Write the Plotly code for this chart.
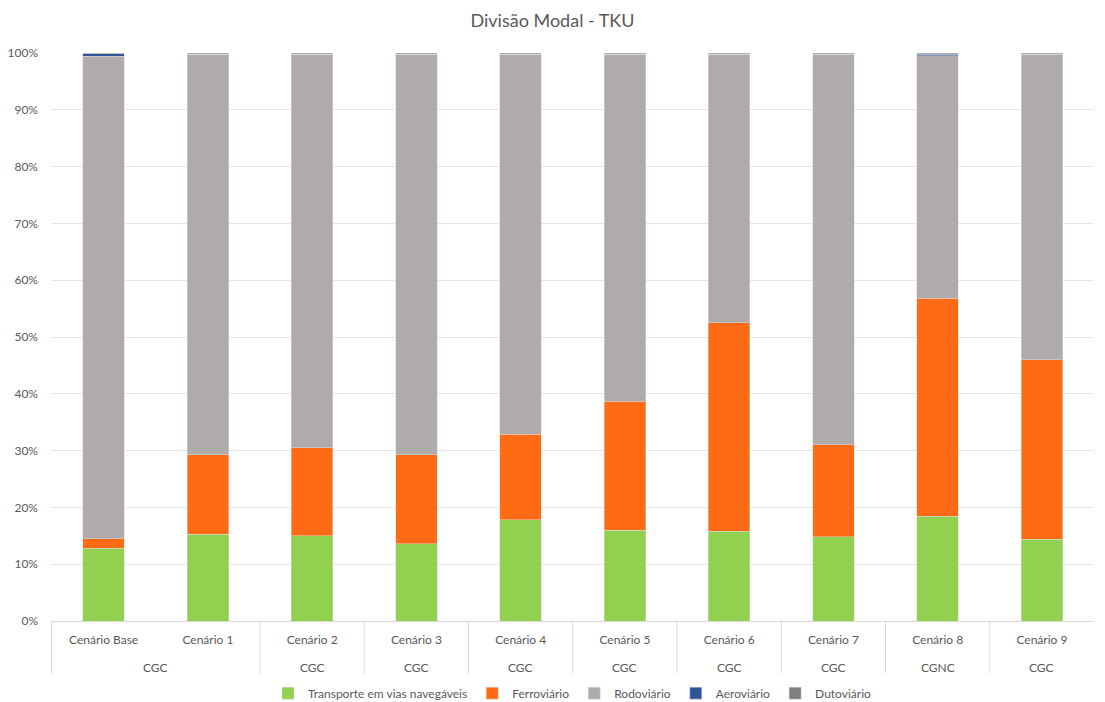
import plotly.graph_objects as go

scenarios = ["Cenário Base", "Cenário 1", "Cenário 2", "Cenário 3", "Cenário 4",
             "Cenário 5", "Cenário 6", "Cenário 7", "Cenário 8", "Cenário 9"]
# outer group labels and the scenario index at which each group is centred
group_labels = ["CGC", "CGC", "CGC", "CGC", "CGC", "CGC", "CGC", "CGNC", "CGC"]
group_centers = [0.5, 2, 3, 4, 5, 6, 7, 8, 9]
group_edges = [-0.5, 1.5, 2.5, 3.5, 4.5, 5.5, 6.5, 7.5, 8.5]

hidroviario = [12.8, 15.3, 15.0, 13.6, 17.8, 16.0, 15.8, 14.8, 18.4, 14.4]
ferroviario = [1.7, 14.0, 15.5, 15.7, 15.1, 22.7, 36.7, 16.2, 38.4, 31.6]
rodoviario = [84.9, 70.45, 69.25, 70.45, 66.85, 61.05, 47.25, 68.75, 42.7, 53.75]
aeroviario = [0.5, 0.05, 0.05, 0.05, 0.05, 0.05, 0.05, 0.05, 0.3, 0.05]
dutoviario = [0.1, 0.2, 0.2, 0.2, 0.2, 0.2, 0.2, 0.2, 0.2, 0.2]

series = [
    ("Transporte em vias navegáveis", hidroviario, "#92D050"),
    ("Ferroviário", ferroviario, "#FF6A14"),
    ("Rodoviário", rodoviario, "#AFABAB"),
    ("Aeroviário", aeroviario, "#2F5597"),
    ("Dutoviário", dutoviario, "#7F7F7F"),
]

fig = go.Figure()
for name, vals, col in series:
    fig.add_trace(go.Bar(x=scenarios, y=vals, name=name,
                         marker=dict(color=col, line=dict(width=0.6, color="rgba(220,220,220,0.8)"))))

font_family = "Lato, 'Open Sans', sans-serif"
text_col = "#595959"
line_col = "#D9D9D9"

# divider lines below the category axis
shapes = [dict(type="line", xref="x", yref="paper", x0=e, x1=e, y0=0, y1=-0.092,
               line=dict(color=line_col, width=1)) for e in group_edges]
# outer group labels
annotations = [dict(text=g, x=c, xref="x", y=-0.081, yref="paper", showarrow=False,
                    xanchor="center", yanchor="middle",
                    font=dict(family=font_family, size=12, color=text_col))
               for g, c in zip(group_labels, group_centers)]

fig.update_layout(
    barmode="stack",
    bargap=0.6,
    width=1105, height=702,
    paper_bgcolor="white", plot_bgcolor="white",
    margin=dict(l=51, r=11, t=53, b=81, autoexpand=False),
    title=dict(text="Divisão Modal - TKU", x=0.5, xanchor="center", y=0.971, yanchor="middle",
               font=dict(family=font_family, size=18, color=text_col)),
    font=dict(family=font_family, size=12, color=text_col),
    legend=dict(orientation="h", x=0.5, xanchor="center", y=-0.127, yanchor="middle",
                font=dict(size=12, color=text_col), traceorder="normal"),
    showlegend=True,
    shapes=shapes,
    annotations=annotations,
)
fig.update_xaxes(type="category", showline=True, linecolor=line_col, linewidth=1,
                 ticks="", showgrid=False, automargin=False,
                 tickfont=dict(size=12, color=text_col), ticklabelstandoff=8)
fig.update_yaxes(range=[0, 100], dtick=10, ticksuffix="%", showgrid=True, gridcolor="#E6E6E6",
                 gridwidth=1, zeroline=False, automargin=False,
                 tickfont=dict(size=12, color=text_col), ticklabelstandoff=12)

fig.write_html("out.html")
